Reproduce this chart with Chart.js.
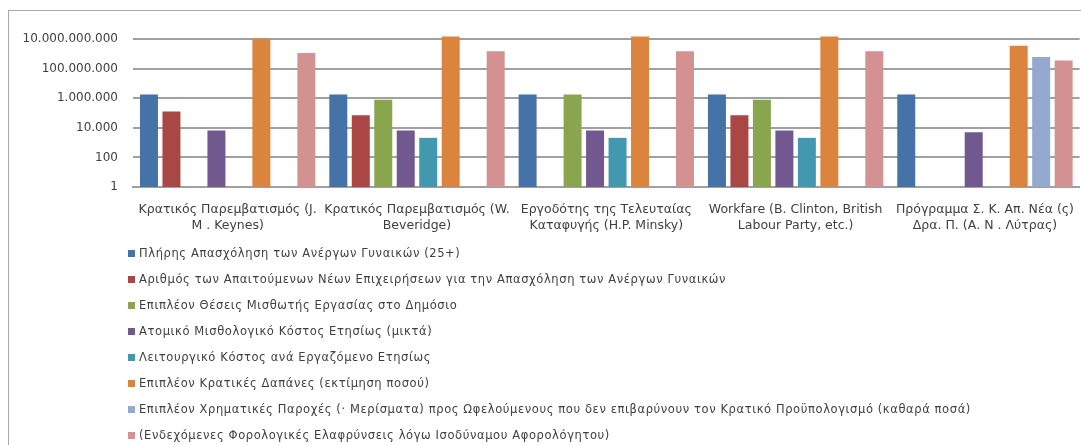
<!DOCTYPE html>
<html>
<head>
<meta charset="utf-8">
<script src="https://cdn.jsdelivr.net/npm/chart.js@4.4.1/dist/chart.umd.min.js"></script>
<style>
  html, body { margin: 0; padding: 0; background: #ffffff; overflow: hidden; }
  body { width: 1081px; height: 445px; position: relative; font-family: "DejaVu Sans", sans-serif; }
  #frame { position: absolute; left: 8px; top: 10px; width: 2000px; height: 2000px; border: 1px solid #a8a8a8; box-sizing: border-box; }
  #wrap { position: absolute; left: 0; top: 0; width: 1081px; height: 240px; }
  #legend { position: absolute; left: 0; top: 0; width: 1081px; height: 445px; pointer-events: none; }
  .li { position: absolute; left: 128px; height: 14px; line-height: 14px; font-size: 11.5px; letter-spacing: 0.6px; color: #404040; white-space: nowrap; display: flex; align-items: center; }
  .sw { width: 7px; height: 7px; margin-right: 4px; display: inline-block; }
</style>
</head>
<body>
<div id="frame"></div>
<div id="wrap"><canvas id="c" width="1081" height="240"></canvas></div>
<div id="legend"></div>
<script>
const categories = [
  ["Κρατικός Παρεμβατισμός (J.", "M . Keynes)"],
  ["Κρατικός Παρεμβατισμός (W.", "Beveridge)"],
  ["Εργοδότης της Τελευταίας", "Καταφυγής (H.P. Minsky)"],
  ["Workfare (B. Clinton, British", "Labour Party, etc.)"],
  ["Πρόγραμμα Σ. Κ. Απ. Νέα (ς)", "Δρα. Π. (Α. Ν . Λύτρας)"]
];
const seriesNames = [
  "Πλήρης Απασχόληση των Ανέργων Γυναικών (25+)",
  "Αριθμός των Απαιτούμενων Νέων Επιχειρήσεων για την Απασχόληση των Ανέργων Γυναικών",
  "Επιπλέον Θέσεις Μισθωτής Εργασίας στο Δημόσιο",
  "Ατομικό Μισθολογικό Κόστος Ετησίως (μικτά)",
  "Λειτουργικό Κόστος ανά Εργαζόμενο Ετησίως",
  "Επιπλέον Κρατικές Δαπάνες (εκτίμηση ποσού)",
  "Επιπλέον Χρηματικές Παροχές (· Μερίσματα) προς Ωφελούμενους που δεν επιβαρύνουν τον Κρατικό Προϋπολογισμό (καθαρά ποσά)",
  "(Ενδεχόμενες Φορολογικές Ελαφρύνσεις λόγω Ισοδύναμου Αφορολόγητου)"
];
const unemployedWomen   = [1750000, 1750000, 1750000, 1750000, 1750000];
const newBusinesses     = [125000, 70000, null, 70000, null];
const publicJobs        = [null, 800000, 1750000, 800000, null];
const salaryCost        = [6600, 6600, 6600, 6600, 5000];
const operatingCost     = [null, 2100, 2100, 2100, null];
const stateSpending     = [10500000000, 15000000000, 15000000000, 15000000000, 3500000000];
const cashBenefits      = [null, null, null, null, 600000000];
const taxRelief         = [1150000000, 1500000000, 1500000000, 1500000000, 350000000];
const yTickValues       = [1, 100, 10000, 1000000, 100000000, 10000000000];

const seriesValues = [unemployedWomen, newBusinesses, publicJobs, salaryCost, operatingCost, stateSpending, cashBenefits, taxRelief];
const colors = ["#4572A7", "#AA4643", "#89A54E", "#71588F", "#4198AF", "#DB843D", "#93A9CF", "#D39291"];

const fmt = v => String(Math.round(v)).replace(/\B(?=(\d{3})+(?!\d))/g, ".");

const chart = new Chart(document.getElementById("c"), {
  type: "bar",
  data: {
    labels: categories,
    datasets: seriesNames.map((n, i) => ({
      label: n,
      data: seriesValues[i],
      backgroundColor: colors[i],
      borderWidth: 0,
      clip: false,
      categoryPercentage: 0.95,
      barPercentage: 0.8
    }))
  },
  options: {
    responsive: false,
    animation: false,
    layout: { padding: { left: 0, right: 0, top: 39, bottom: 0 } },
    plugins: { legend: { display: false }, tooltip: { enabled: false } },
    scales: {
      x: {
        grid: { display: false },
        border: { display: true, color: "#a0a0a0", width: 2 },
        ticks: { color: "#404040", padding: 7, maxRotation: 0, autoSkip: false,
                 font: { family: "DejaVu Sans", size: 12.5, lineHeight: 1.25 } },
        afterFit: s => { s.height = 53; }
      },
      y: {
        type: "logarithmic",
        min: 1,
        max: 10000000000,
        border: { display: false },
        grid: { color: "#a0a0a0", lineWidth: 2, drawTicks: false },
        ticks: { color: "#404040", padding: 15, callback: v => fmt(v),
                 font: { family: "DejaVu Sans", size: 12 } },
        afterBuildTicks: s => { s.ticks = yTickValues.map(v => ({ value: v })); },
        afterFit: s => { s.width = 133; }
      }
    }
  }
});

const leg = document.getElementById("legend");
chart.data.datasets.forEach((d, i) => {
  const row = document.createElement("div");
  row.className = "li";
  row.style.top = (253 - 7 + i * 26) + "px";
  const sw = document.createElement("span");
  sw.className = "sw";
  sw.style.background = d.backgroundColor;
  const t = document.createElement("span");
  t.textContent = d.label;
  row.appendChild(sw);
  row.appendChild(t);
  leg.appendChild(row);
});
</script>
</body>
</html>
